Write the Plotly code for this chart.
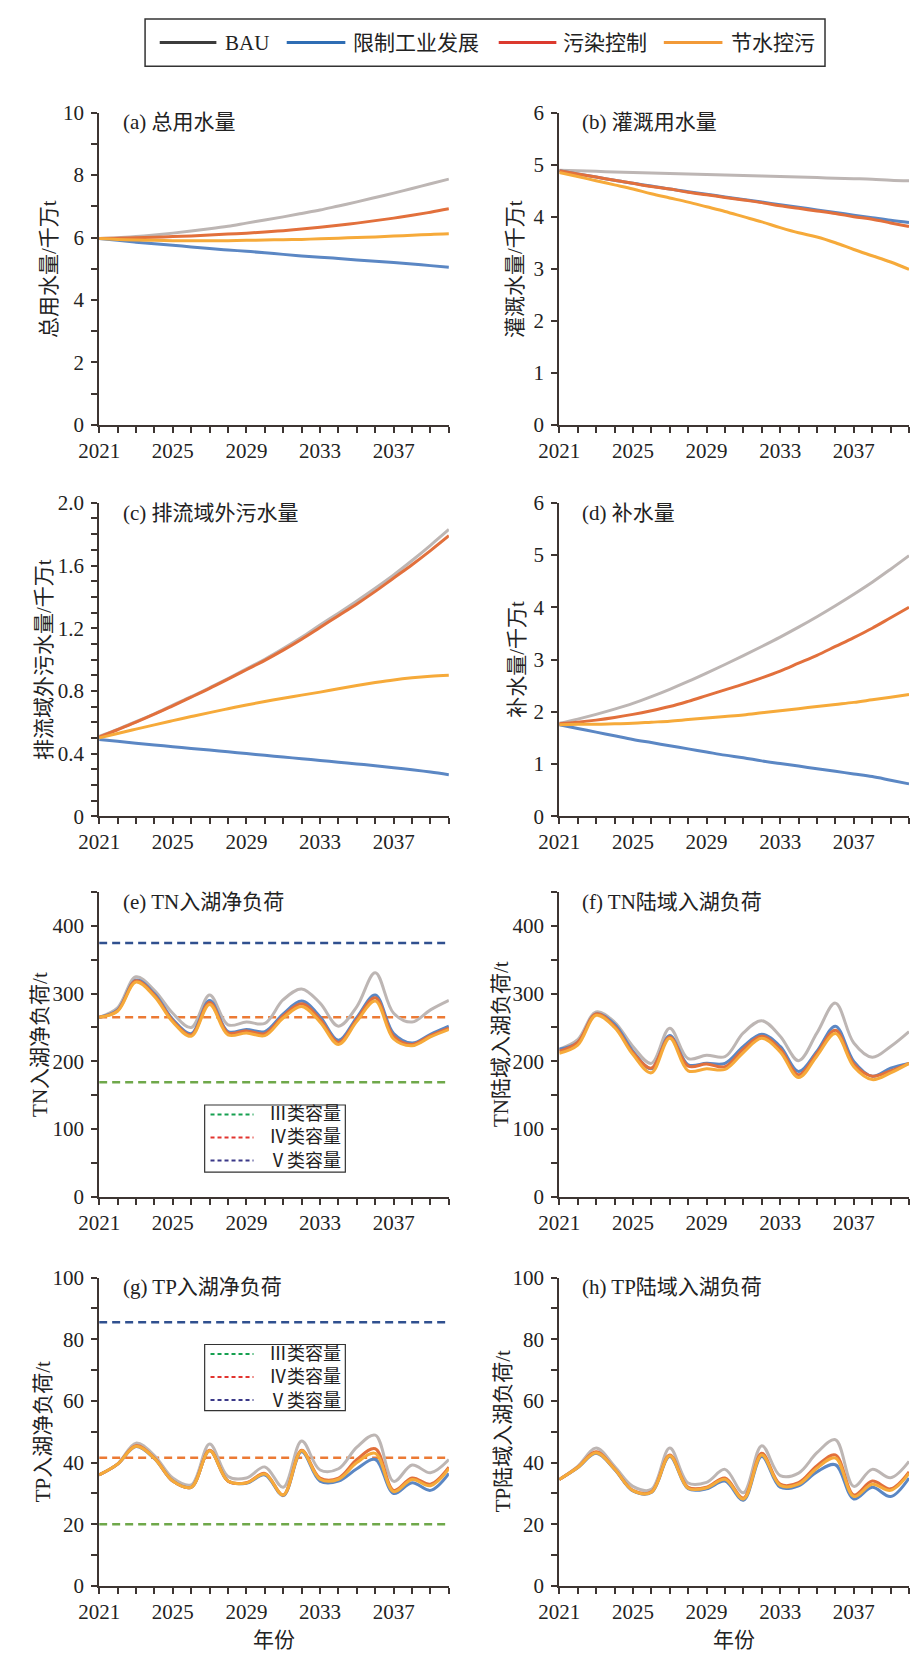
import plotly.graph_objects as go

# ---------------- data ----------------
years = list(range(2021, 2041))
scenarios = ["BAU", "限制工业发展", "污染控制", "节水控污"]

# (a) 总用水量 / 千万t
a_bau = [5.97, 5.99, 6.03, 6.08, 6.14, 6.21, 6.28, 6.36, 6.46, 6.56, 6.66, 6.77, 6.88, 7.01, 7.14, 7.28, 7.42, 7.57, 7.72, 7.87]
a_lim = [5.97, 5.91, 5.85, 5.80, 5.75, 5.70, 5.65, 5.60, 5.56, 5.51, 5.46, 5.41, 5.37, 5.33, 5.28, 5.24, 5.20, 5.15, 5.10, 5.05]
a_pol = [5.97, 5.98, 5.99, 6.01, 6.03, 6.05, 6.08, 6.11, 6.14, 6.18, 6.22, 6.27, 6.33, 6.39, 6.46, 6.54, 6.62, 6.71, 6.81, 6.92]
a_sav = [5.97, 5.94, 5.92, 5.91, 5.90, 5.90, 5.90, 5.90, 5.91, 5.92, 5.93, 5.94, 5.96, 5.98, 6.00, 6.02, 6.05, 6.07, 6.10, 6.12]

# (b) 灌溉用水量 / 千万t
b_bau = [4.89, 4.88, 4.87, 4.86, 4.85, 4.84, 4.83, 4.82, 4.81, 4.80, 4.79, 4.78, 4.77, 4.76, 4.75, 4.74, 4.73, 4.72, 4.70, 4.69]
b_lim = [4.88, 4.82, 4.76, 4.70, 4.64, 4.59, 4.53, 4.48, 4.43, 4.38, 4.33, 4.28, 4.23, 4.18, 4.13, 4.08, 4.03, 3.98, 3.93, 3.89]
b_pol = [4.88, 4.82, 4.76, 4.70, 4.64, 4.58, 4.53, 4.47, 4.42, 4.37, 4.32, 4.27, 4.21, 4.16, 4.11, 4.06, 4.00, 3.95, 3.88, 3.81]
b_sav = [4.85, 4.77, 4.69, 4.61, 4.53, 4.44, 4.36, 4.28, 4.19, 4.10, 4.00, 3.90, 3.79, 3.69, 3.61, 3.50, 3.37, 3.25, 3.13, 2.99]

# (c) 排流域外污水量 / 千万t
c_bau = [0.510, 0.555, 0.603, 0.654, 0.709, 0.763, 0.820, 0.879, 0.940, 1.002, 1.070, 1.142, 1.220, 1.296, 1.374, 1.455, 1.540, 1.632, 1.729, 1.830]
c_lim = [0.490, 0.478, 0.466, 0.455, 0.444, 0.433, 0.422, 0.411, 0.400, 0.389, 0.378, 0.367, 0.356, 0.345, 0.334, 0.322, 0.310, 0.297, 0.282, 0.265]
c_pol = [0.505, 0.552, 0.600, 0.651, 0.705, 0.760, 0.816, 0.875, 0.935, 0.995, 1.060, 1.130, 1.205, 1.280, 1.355, 1.435, 1.520, 1.605, 1.695, 1.790]
c_sav = [0.500, 0.528, 0.556, 0.583, 0.610, 0.636, 0.661, 0.686, 0.710, 0.732, 0.753, 0.773, 0.792, 0.813, 0.834, 0.853, 0.870, 0.883, 0.893, 0.900]

# (d) 补水量 / 千万t
d_bau = [1.78, 1.86, 1.95, 2.05, 2.16, 2.29, 2.43, 2.58, 2.74, 2.905, 3.075, 3.25, 3.43, 3.62, 3.82, 4.03, 4.25, 4.48, 4.73, 4.99]
d_lim = [1.75, 1.68, 1.61, 1.54, 1.47, 1.41, 1.35, 1.29, 1.23, 1.17, 1.12, 1.06, 1.01, 0.96, 0.91, 0.86, 0.81, 0.76, 0.69, 0.62]
d_pol = [1.77, 1.80, 1.84, 1.89, 1.95, 2.02, 2.10, 2.20, 2.31, 2.42, 2.53, 2.65, 2.78, 2.93, 3.08, 3.25, 3.42, 3.60, 3.80, 4.00]
d_sav = [1.75, 1.76, 1.76, 1.77, 1.78, 1.80, 1.82, 1.85, 1.88, 1.91, 1.94, 1.98, 2.02, 2.06, 2.10, 2.14, 2.18, 2.23, 2.28, 2.33]

# (e) TN入湖净负荷 / t
e_bau = [265, 279, 325, 305, 271, 250, 298, 254, 258, 256, 291, 307, 286, 252, 281, 331, 271, 258, 276, 290]
e_lim = [265, 276, 320, 300, 262, 241, 290, 244, 247, 244, 270, 289, 266, 231, 265, 298, 241, 227, 240, 252]
e_pol = [265, 275, 319, 298, 260, 239, 287, 242, 245, 241, 267, 285, 262, 228, 262, 294, 237, 225, 238, 249]
e_sav = [265, 274, 317, 296, 258, 237, 284, 239, 242, 238, 264, 281, 258, 225, 259, 289, 233, 223, 236, 247]
e_caps = [169, 265, 375]

# (f) TN陆域入湖负荷 / t
f_bau = [218, 232, 273, 258, 222, 197, 249, 204, 209, 207, 242, 260, 237, 201, 242, 286, 227, 206, 222, 244]
f_lim = [218, 228, 270, 255, 215, 189, 238, 195, 197, 197, 222, 240, 222, 185, 215, 252, 200, 178, 190, 197]
f_pol = [215, 228, 270, 252, 213, 190, 236, 193, 196, 192, 218, 237, 218, 180, 212, 246, 196, 178, 186, 197]
f_sav = [212, 224, 268, 250, 210, 183, 234, 186, 189, 188, 213, 234, 214, 176, 208, 241, 192, 173, 183, 197]

# (g) TP入湖净负荷 / t
g_bau = [36.0, 39.5, 46.3, 42.3, 35.0, 32.8, 46.0, 35.5, 35.0, 38.6, 32.0, 47.0, 37.6, 38.0, 45.0, 48.9, 33.9, 39.2, 36.7, 41.0]
g_lim = [36.0, 39.5, 45.2, 41.3, 34.0, 32.0, 43.8, 34.0, 33.3, 36.0, 29.3, 43.5, 34.0, 34.0, 38.0, 41.0, 30.0, 33.5, 31.0, 36.5]
g_pol = [36.0, 39.5, 45.5, 41.5, 34.0, 32.0, 44.0, 34.0, 33.5, 36.5, 29.5, 44.0, 35.0, 35.0, 41.0, 44.5, 31.0, 35.0, 33.0, 38.5]
g_sav = [36.0, 39.5, 45.3, 41.4, 34.0, 32.0, 43.8, 34.0, 33.4, 36.3, 29.5, 43.8, 34.6, 34.6, 40.0, 43.0, 30.6, 34.5, 32.5, 38.0]
g_caps = [20.0, 41.6, 85.5]

# (h) TP陆域入湖负荷 / t
h_bau = [34.5, 38.8, 44.7, 38.8, 32.3, 31.3, 44.7, 33.4, 33.6, 37.8, 30.2, 45.5, 35.8, 36.6, 43.2, 47.4, 32.3, 37.8, 35.1, 40.4]
h_lim = [34.5, 38.3, 43.0, 37.8, 30.8, 30.3, 42.0, 31.5, 31.5, 34.0, 27.8, 42.0, 32.0, 32.5, 37.0, 39.3, 28.2, 32.0, 29.0, 35.0]
h_pol = [34.5, 38.5, 43.5, 38.0, 31.0, 30.5, 42.5, 32.0, 32.0, 35.0, 28.5, 43.0, 33.0, 33.5, 39.0, 42.5, 29.5, 34.0, 31.5, 37.0]
h_sav = [34.5, 38.4, 43.2, 37.9, 30.9, 30.4, 42.2, 31.7, 31.8, 34.6, 28.2, 42.5, 32.6, 33.0, 38.2, 41.5, 29.0, 33.0, 31.0, 36.5]

cap_names = ["Ⅲ类容量", "Ⅳ类容量", "Ⅴ类容量"]
x_labels = {2021: "2021", 2025: "2025", 2029: "2029", 2033: "2033", 2037: "2037"}

panels = [
    dict(key="a", title="(a) 总用水量", ytitle="总用水量/千万t", data=[a_bau, a_lim, a_pol, a_sav],
         ymax=10, yt=[0, 2, 4, 6, 8, 10], ytt=["0", "2", "4", "6", "8", "10"], minor=[1, 3, 5, 7, 9]),
    dict(key="b", title="(b) 灌溉用水量", ytitle="灌溉水量/千万t", data=[b_bau, b_lim, b_pol, b_sav],
         ymax=6, yt=[0, 1, 2, 3, 4, 5, 6], ytt=["0", "1", "2", "3", "4", "5", "6"], minor=[]),
    dict(key="c", title="(c) 排流域外污水量", ytitle="排流域外污水量/千万t", data=[c_bau, c_lim, c_pol, c_sav],
         ymax=2.0, yt=[0, 0.4, 0.8, 1.2, 1.6, 2.0], ytt=["0", "0.4", "0.8", "1.2", "1.6", "2.0"],
         minor=[0.1, 0.2, 0.3, 0.5, 0.6, 0.7, 0.9, 1.0, 1.1, 1.3, 1.4, 1.5, 1.7, 1.8, 1.9]),
    dict(key="d", title="(d) 补水量", ytitle="补水量/千万t", data=[d_bau, d_lim, d_pol, d_sav],
         ymax=6, yt=[0, 1, 2, 3, 4, 5, 6], ytt=["0", "1", "2", "3", "4", "5", "6"], minor=[]),
    dict(key="e", title="(e) TN入湖净负荷", ytitle="TN入湖净负荷/t", data=[e_bau, e_lim, e_pol, e_sav],
         ymax=450, yt=[0, 100, 200, 300, 400], ytt=["0", "100", "200", "300", "400"], minor=[50, 150, 250, 350, 450]),
    dict(key="f", title="(f) TN陆域入湖负荷", ytitle="TN陆域入湖负荷/t", data=[f_bau, f_lim, f_pol, f_sav],
         ymax=450, yt=[0, 100, 200, 300, 400], ytt=["0", "100", "200", "300", "400"], minor=[50, 150, 250, 350, 450]),
    dict(key="g", title="(g) TP入湖净负荷", ytitle="TP入湖净负荷/t", data=[g_bau, g_lim, g_pol, g_sav],
         ymax=100, yt=[0, 20, 40, 60, 80, 100], ytt=["0", "20", "40", "60", "80", "100"], minor=[10, 30, 50, 70, 90]),
    dict(key="h", title="(h) TP陆域入湖负荷", ytitle="TP陆域入湖负荷/t", data=[h_bau, h_lim, h_pol, h_sav],
         ymax=100, yt=[0, 20, 40, 60, 80, 100], ytt=["0", "20", "40", "60", "80", "100"], minor=[10, 30, 50, 70, 90]),
]

# ---------------- style ----------------
W, H = 910, 1666
FONT = "Liberation Serif, 'Noto Sans CJK SC', serif"
AXC = "#3d3532"
TXT = "#222"
line_colors = ["#bdb6b4", "#5b87c4", "#e2703c", "#f6aa3a"]
legend_colors = ["#3c3c3c", "#2e6db4", "#dc3a2e", "#f29a38"]
cap_colors = ["#6fa84a", "#ec7a34", "#30508f"]
cap_leg_colors = ["#16a050", "#e2342f", "#3a3888"]

col_px = [(80, 438), (551, 909)]
row_px = [(102, 419), (498, 816), (893, 1202), (1284, 1597)]
title_x = [102, 572]
title_y = [112, 508, 903, 1294]
ytitle_x = {"a": 28, "b": 505, "c": 23, "d": 507, "e": 20, "f": 492, "g": 22, "h": 493}

# legend key geometry (pixels)
leg_box = (127, 823, 7, 55)
leg_y = 31
leg_line_x = [(142, 200), (272, 332), (489, 548), (658, 718)]
leg_text_x = [207, 338, 553, 725]
CAP_FS = 18
cap_step = CAP_FS * 1.3
cap_boxes = {"e": (188, 332, 1109, 1177, 1142), "g": (188, 332, 1352, 1419, 1385)}


def px(xp):
    return xp / W


def py(yp):
    return 1 - yp / H


fig = go.Figure()
annotations = []
shapes = []
layout = dict(
    width=W, height=H, margin=dict(l=0, r=0, t=0, b=0),
    paper_bgcolor="white", plot_bgcolor="white", showlegend=False,
    font=dict(family=FONT, size=21, color=TXT),
)

for i, p in enumerate(panels):
    r, c = divmod(i, 2)
    n = i + 1
    xa = "x" if n == 1 else f"x{n}"
    ya = "y" if n == 1 else f"y{n}"
    x0, x1 = col_px[c]
    y0, y1 = row_px[r]
    layout[f"xaxis{'' if n == 1 else n}"] = dict(
        domain=[px(x0), px(x1)], anchor=ya, range=[2021, 2040],
        tickmode="array", tickvals=years, ticktext=[x_labels.get(yv, "") for yv in years],
        ticks="outside", ticklen=6, tickwidth=1.5, tickcolor=AXC,
        showline=True, linecolor=AXC, linewidth=2, showgrid=False, zeroline=False,
        tickfont=dict(size=21, family=FONT, color=TXT),
    )
    layout[f"yaxis{'' if n == 1 else n}"] = dict(
        domain=[py(y1), py(y0)], anchor=xa, range=[0, p["ymax"]],
        tickmode="array", tickvals=p["yt"], ticktext=p["ytt"],
        ticks="outside", ticklen=6, tickwidth=1.5, tickcolor=AXC,
        minor=dict(tickmode="array", tickvals=p["minor"], ticks="outside", ticklen=6, tickwidth=1.5, tickcolor=AXC),
        showline=True, linecolor=AXC, linewidth=2, showgrid=False, zeroline=False,
        tickfont=dict(size=21, family=FONT, color=TXT), ticklabelstandoff=3,
    )
    # capacity lines
    if p["key"] in cap_boxes:
        caps = e_caps if p["key"] == "e" else g_caps
        for k, cv in enumerate(caps):
            fig.add_trace(go.Scatter(
                x=[years[0], years[-1]], y=[cv, cv], mode="lines", xaxis=xa, yaxis=ya, name=cap_names[k],
                line=dict(color=cap_colors[k], width=2.5, dash="8px,5px"), hoverinfo="skip"))
        bx0, bx1, by0, by1, yc = cap_boxes[p["key"]]
        shapes.append(dict(type="rect", xref="paper", yref="paper", x0=px(bx0), x1=px(bx1), y0=py(by1), y1=py(by0),
                           line=dict(color="#333", width=1.2), fillcolor="white", layer="above"))
        for k in range(len(cap_names)):
            ry = yc + (k - 1) * cap_step
            shapes.append(dict(type="line", xref="paper", yref="paper", x0=px(194), x1=px(238), y0=py(ry), y1=py(ry),
                               line=dict(color=cap_leg_colors[k], width=2, dash="4px,3px"), layer="above"))
        annotations.append(dict(text="<br>".join(cap_names), x=px(330), y=py(yc), xref="paper", yref="paper",
                                xanchor="right", yanchor="middle", align="right", showarrow=False,
                                font=dict(size=CAP_FS, family=FONT, color=TXT)))
    for s, series in enumerate(p["data"]):
        fig.add_trace(go.Scatter(
            x=years, y=series, mode="lines", xaxis=xa, yaxis=ya, name=scenarios[s],
            line=dict(color=line_colors[s], width=3, shape="spline", smoothing=1.0)))
    annotations.append(dict(
        text=p["title"], x=px(title_x[c]), y=py(title_y[r]), xref="paper", yref="paper",
        xanchor="left", yanchor="middle", showarrow=False, font=dict(size=21, family=FONT, color=TXT)))
    annotations.append(dict(
        text=p["ytitle"], x=px(ytitle_x[p["key"]]), y=py((y0 + y1) / 2), xref="paper", yref="paper",
        xanchor="center", yanchor="middle", textangle=-90, showarrow=False,
        font=dict(size=21, family=FONT, color=TXT)))

# x titles
for c in range(2):
    x0, x1 = col_px[c]
    annotations.append(dict(
        text="年份", x=px((x0 + x1) / 2), y=py(1652), xref="paper", yref="paper",
        xanchor="center", yanchor="middle", showarrow=False, font=dict(size=21, family=FONT, color=TXT)))

# main legend key
shapes.append(dict(type="rect", xref="paper", yref="paper", x0=px(leg_box[0]), x1=px(leg_box[1]),
                   y0=py(leg_box[3]), y1=py(leg_box[2]), line=dict(color="#333", width=1.5)))
for s, name in enumerate(scenarios):
    lx0, lx1 = leg_line_x[s]
    shapes.append(dict(type="line", xref="paper", yref="paper", x0=px(lx0), x1=px(lx1), y0=py(leg_y), y1=py(leg_y),
                       line=dict(color=legend_colors[s], width=3)))
    annotations.append(dict(text=name, x=px(leg_text_x[s]), y=py(leg_y), xref="paper", yref="paper",
                            xanchor="left", yanchor="middle", showarrow=False,
                            font=dict(size=21, family=FONT, color=TXT)))

layout["annotations"] = annotations
layout["shapes"] = shapes
fig.update_layout(**layout)

fig.write_html("out.html", config={"displayModeBar": False},
               post_script="document.body.style.margin='0';")
